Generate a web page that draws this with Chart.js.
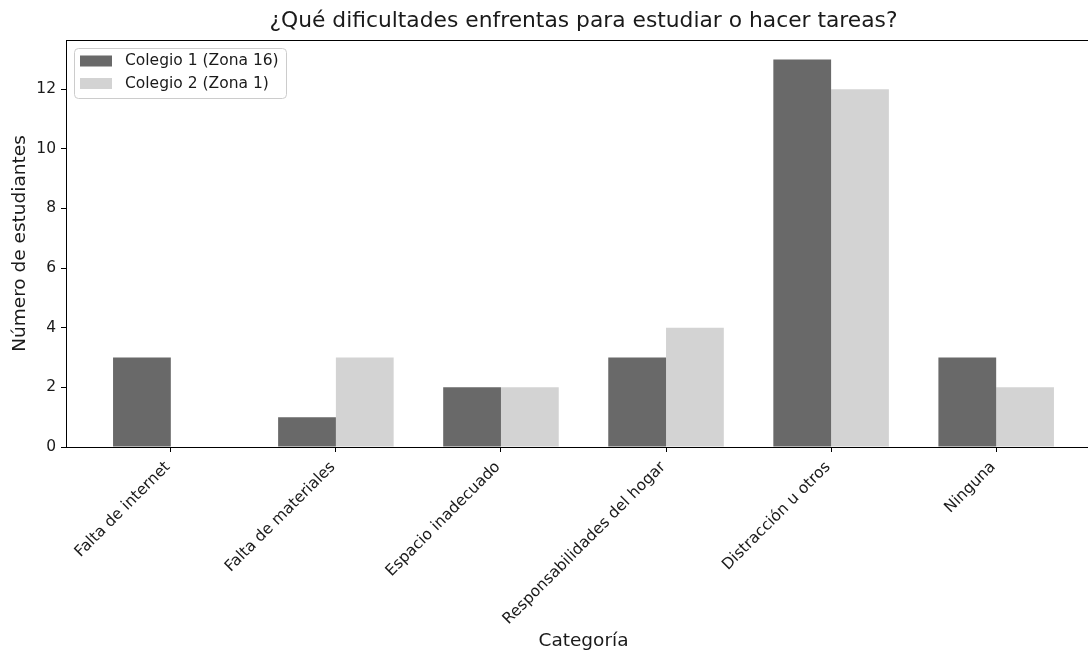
<!DOCTYPE html>
<html><head><meta charset="utf-8">
<script src="https://cdn.jsdelivr.net/npm/chart.js@4/dist/chart.umd.min.js"></script>
<style>html,body{margin:0;padding:0;background:#fff;overflow:hidden;width:1088px;height:652px}</style>
</head><body>
<canvas id="c" width="1110" height="652" style="display:block;width:1110px;height:652px"></canvas>
<script>
const chartTitle = '¿Qué dificultades enfrentas para estudiar o hacer tareas?';
const categories = ['Falta de internet', 'Falta de materiales', 'Espacio inadecuado', 'Responsabilidades del hogar', 'Distracción u otros', 'Ninguna'];
const seriesNames = ['Colegio 1 (Zona 16)', 'Colegio 2 (Zona 1)'];
const colegio1 = [3, 1, 2, 3, 13, 3];
const colegio2 = [0, 3, 2, 4, 12, 2];
const yTicks = [0, 2, 4, 6, 8, 10, 12];
const xAxisTitle = 'Categoría';
const yAxisTitle = 'Número de estudiantes';

const FONT = '"DejaVu Sans", sans-serif';
const TEXT = '#1a1a1a';

const spinesPlugin = {
  id: 'spines',
  afterDatasetsDraw(chart) {
    const {ctx, chartArea: a} = chart;
    ctx.save();
    ctx.strokeStyle = '#000';
    ctx.lineWidth = 1;
    ctx.strokeRect(Math.round(a.left) + 0.5, Math.round(a.top) + 0.5, Math.round(a.right - a.left), Math.round(a.bottom - a.top));
    ctx.restore();
  }
};

const titleLegendPlugin = {
  id: 'titleLegend',
  afterDraw(chart) {
    const {ctx, chartArea: a} = chart;
    ctx.save();
    ctx.fillStyle = TEXT;
    ctx.font = '21.8px ' + FONT;
    ctx.textAlign = 'center';
    ctx.textBaseline = 'alphabetic';
    ctx.fillText(chartTitle, (a.left + a.right) / 2, 27);

    const x0 = a.left + 8, y0 = a.top + 8, w = 212, h = 50;
    ctx.beginPath();
    ctx.roundRect(x0 + 0.5, y0 + 0.5, w, h, 4);
    ctx.fillStyle = 'rgba(255,255,255,0.8)';
    ctx.fill();
    ctx.strokeStyle = '#cccccc';
    ctx.lineWidth = 1;
    ctx.stroke();
    chart.data.datasets.forEach((ds, i) => {
      const cy = y0 + 13 + i * 22.5;
      ctx.fillStyle = ds.backgroundColor;
      ctx.fillRect(x0 + 6, cy - 5.5, 32, 11);
      ctx.fillStyle = TEXT;
      ctx.font = '15.5px ' + FONT;
      ctx.textAlign = 'left';
      ctx.textBaseline = 'middle';
      ctx.fillText(ds.label, x0 + 51, cy);
    });
    ctx.restore();
  }
};

new Chart(document.getElementById('c'), {
  type: 'bar',
  data: {
    datasets: [
      {label: seriesNames[0], data: categories.map((c, i) => ({x: i, y: colegio1[i]})), backgroundColor: '#696969', borderWidth: 0},
      {label: seriesNames[1], data: categories.map((c, i) => ({x: i, y: colegio2[i]})), backgroundColor: '#d3d3d3', borderWidth: 0}
    ]
  },
  options: {
    responsive: false,
    animation: false,
    devicePixelRatio: 1,
    categoryPercentage: 0.7,
    barPercentage: 1.0,
    layout: {padding: {top: 40, right: 9, left: 0, bottom: 0}},
    plugins: {legend: {display: false}, tooltip: {enabled: false}, title: {display: false}},
    scales: {
      x: {
        type: 'linear',
        min: -0.635,
        max: 5.635,
        offset: false,
        afterBuildTicks: s => { s.ticks = categories.map((c, i) => ({value: i})); },
        afterFit: s => { s.height = 205; },
        ticks: {
          autoSkip: false,
          maxRotation: 45,
          minRotation: 45,
          padding: 6,
          labelOffset: -3,
          color: TEXT,
          font: {family: FONT, size: 15.5},
          callback: v => categories[v]
        },
        grid: {offset: false, drawOnChartArea: false, drawTicks: true, tickLength: 5, tickColor: '#000', tickWidth: 1},
        border: {display: false},
        title: {display: true, text: xAxisTitle, color: TEXT, font: {family: FONT, size: 18.5}, padding: {top: 0, bottom: 0}}
      },
      y: {
        min: 0,
        max: 13.65,
        afterBuildTicks: s => { s.ticks = yTicks.map(v => ({value: v})); },
        afterFit: s => { s.width = 66; },
        ticks: {padding: 5, color: TEXT, font: {family: FONT, size: 15.5}},
        grid: {drawOnChartArea: false, drawTicks: true, tickLength: 5, tickColor: '#000', tickWidth: 1},
        border: {display: false},
        title: {display: true, text: yAxisTitle, color: TEXT, font: {family: FONT, size: 18.5}, padding: {top: 9, bottom: 0}}
      }
    }
  },
  plugins: [spinesPlugin, titleLegendPlugin]
});
</script>
</body></html>
